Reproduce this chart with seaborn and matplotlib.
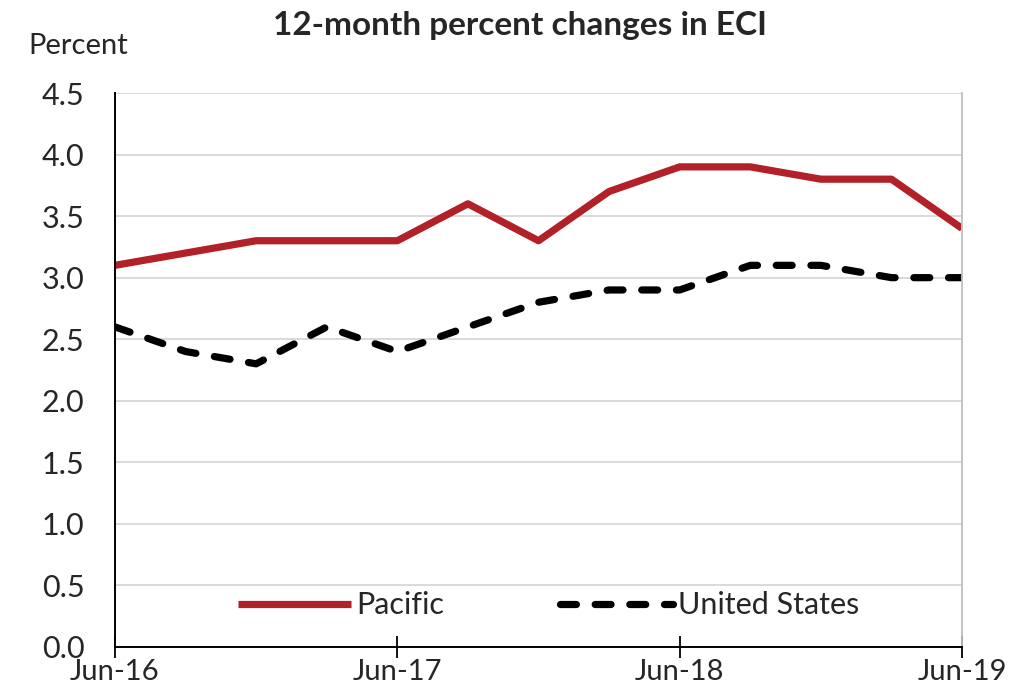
import pandas as pd
import seaborn as sns
import matplotlib.pyplot as plt

quarters = ['Jun-16', 'Sep-16', 'Dec-16', 'Mar-17', 'Jun-17', 'Sep-17', 'Dec-17',
            'Mar-18', 'Jun-18', 'Sep-18', 'Dec-18', 'Mar-19', 'Jun-19']
pacific = [3.1, 3.2, 3.3, 3.3, 3.3, 3.6, 3.3, 3.7, 3.9, 3.9, 3.8, 3.8, 3.4]
united_states = [2.6, 2.4, 2.3, 2.6, 2.4, 2.6, 2.8, 2.9, 2.9, 3.1, 3.1, 3.0, 3.0]
tick_labels = ['Jun-16', 'Jun-17', 'Jun-18', 'Jun-19']
y_ticks = [0.0, 0.5, 1.0, 1.5, 2.0, 2.5, 3.0, 3.5, 4.0, 4.5]

df = pd.DataFrame({'t': range(len(quarters)), 'Pacific': pacific, 'United States': united_states})

sns.set_style('white')
plt.rcParams['font.family'] = ['Lato', 'DejaVu Sans']

fig = plt.figure(figsize=(10.23, 6.93), dpi=100)
ax = fig.add_axes([0.1124, 0.0664, 0.828, 0.7994])

sns.lineplot(data=df, x='t', y='Pacific', ax=ax, color='#b22028', linewidth=5.2,
             label='Pacific', solid_capstyle='butt')
sns.lineplot(data=df, x='t', y='United States', ax=ax, color='black', linewidth=5.2,
             label='United States', linestyle=(0, (2.2, 2.6)), dash_capstyle='round')

ax.set_xlim(0, len(quarters) - 1)
ax.set_ylim(0, 4.5)
ax.set_yticks(y_ticks)
ax.set_yticklabels([f'{v:.1f}' for v in y_ticks], fontsize=22)
ax.set_xticks([quarters.index(q) for q in tick_labels])
ax.set_xticklabels(tick_labels, fontsize=21)
ax.tick_params(axis='x', bottom=True, direction='inout', length=16, width=1.3,
               color='black', pad=1)
ax.tick_params(axis='y', length=0, pad=22)
ax.set_xlabel('')
ax.set_ylabel('')

ax.grid(axis='y', color='#d9d9d9', linewidth=1.4)
ax.set_axisbelow(True)
for side in ['left', 'bottom']:
    ax.spines[side].set_color('black')
    ax.spines[side].set_linewidth(1.4)
ax.spines['right'].set_color('#bfbfbf')
ax.spines['right'].set_linewidth(1.3)
ax.spines['top'].set_visible(False)

ax.legend(loc='lower center', bbox_to_anchor=(0.512, 0.0), ncol=2, frameon=False,
          fontsize=22, handlelength=3.7, handletextpad=0.15, columnspacing=3.8)

fig.text(0.508, 0.963, '12-month percent changes in ECI', ha='center', va='center',
         fontsize=24, fontweight='bold')
fig.text(0.028, 0.934, 'Percent', ha='left', va='center', fontsize=21)

plt.savefig('out.png', dpi=100)
